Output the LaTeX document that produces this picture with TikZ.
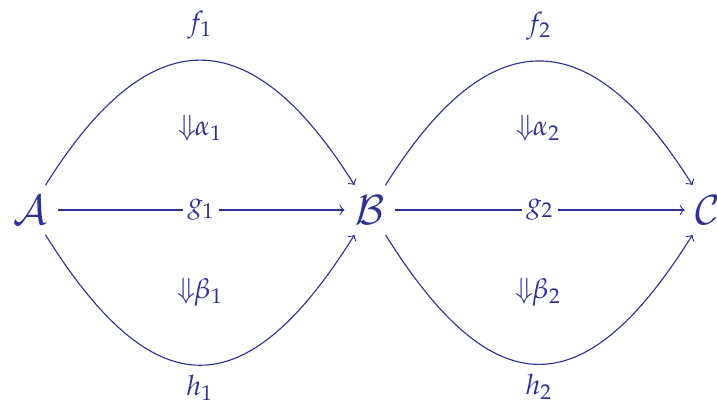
\documentclass[tikz,border=0pt]{standalone}
\usepackage{mathpazo}
\usetikzlibrary{positioning}
\definecolor{catBlue}{HTML}{2E3192}

\begin{document}
\begin{tikzpicture}[
    x=0.0125cm, y=0.0125cm,
    every node/.style={text=catBlue},
    obj/.style={font=\Large, inner sep=3.5pt},
    arr/.style={->, draw=catBlue, line width=.4pt},
    mid/.style={fill=white, inner sep=1.5pt},
    cell/.style={font=\normalsize}
  ]
  \useasboundingbox (0,-196) rectangle (717,210);

  % objects
  \node[obj] (A) at (30,0)  {$\mathcal{A}$};
  \node[obj] (B) at (370,0) {$\mathcal{B}$};
  \node[obj] (C) at (708,0) {$\mathcal{C}$};

  % first square
  \draw[arr] (A) -- node[mid] {$g_1$} (B);
  \draw[arr] (A) to[out=58,in=122,looseness=1.63] node[above=4pt] {$f_1$} (B);
  \draw[arr] (A) to[out=-58,in=-122,looseness=1.7] node[below=0pt] {$h_1$} (B);
  \node[cell] (a1) at (200,82)  {$\Downarrow\!\!\alpha_1$};
  \node[cell] (b1) at (200,-82) {$\Downarrow\!\!\beta_1$};

  % second square
  \draw[arr] (B) -- node[mid] {$g_2$} (C);
  \draw[arr] (B) to[out=58,in=122,looseness=1.63] node[above=4pt] {$f_2$} (C);
  \draw[arr] (B) to[out=-58,in=-122,looseness=1.7] node[below=0pt] {$h_2$} (C);
  \node[cell] (a2) at (538,82)  {$\Downarrow\!\!\alpha_2$};
  \node[cell] (b2) at (538,-82) {$\Downarrow\!\!\beta_2$};
\end{tikzpicture}
\end{document}
